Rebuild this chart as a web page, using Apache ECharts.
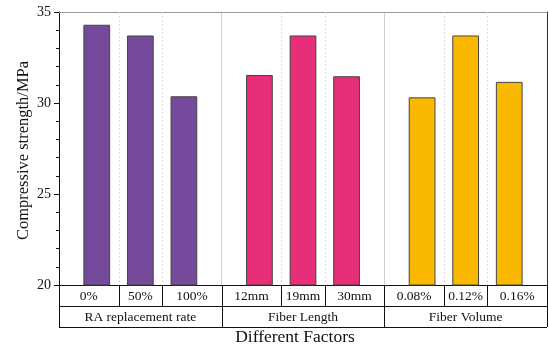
<!DOCTYPE html>
<html>
<head>
<meta charset="utf-8">
<script src="https://cdn.jsdelivr.net/npm/echarts@6/dist/echarts.min.js"></script>
<style>html,body{margin:0;padding:0;background:#fff}#c{width:549px;height:347px}</style>
</head>
<body>
<div id="c"></div>
<script>
const groups = ['RA replacement rate', 'Fiber Length', 'Fiber Volume'];
const levels = [['0%', '50%', '100%'], ['12mm', '19mm', '30mm'], ['0.08%', '0.12%', '0.16%']];
const raValues = [34.30, 33.71, 30.37];
const lengthValues = [31.54, 33.71, 31.47];
const volumeValues = [30.31, 33.71, 31.16];
const groupValues = [raValues, lengthValues, volumeValues];
const groupColors = ['#764A9B', '#E62E79', '#FBB800'];
const yTicks = { min: 20, max: 35, interval: 5 };
const yTitle = 'Compressive strength/MPa';
const xTitle = 'Different Factors';

const FONT = 'Liberation Serif';
const barGapPct = 63, catGapPct = 30;

const chart = echarts.init(document.getElementById('c'), null, { renderer: 'canvas' });

const series = [0, 1, 2].map(i => ({
  type: 'bar',
  xAxisIndex: 0,
  yAxisIndex: 0,
  barGap: barGapPct + '%',
  barCategoryGap: catGapPct + '%',
  itemStyle: { borderColor: '#444', borderWidth: 1 },
  data: groups.map((g, gi) => ({ value: groupValues[gi][i], itemStyle: { color: groupColors[gi] } }))
}));

chart.setOption({
  animation: false,
  grid: { left: 59, right: 2, top: 12, bottom: 62, containLabel: false },
  xAxis: [
    {
      type: 'category', data: groups, position: 'bottom',
      axisLine: { show: true, lineStyle: { color: '#111', width: 1 } },
      axisTick: { show: false }, axisLabel: { show: false },
      splitLine: { show: true, lineStyle: { color: '#cfcfcf', width: 1 } }
    },
    {
      type: 'value', min: 0, max: 3, position: 'top',
      axisLine: { show: true, onZero: false, lineStyle: { color: '#999', width: 1 } },
      axisTick: { show: false }, axisLabel: { show: false }, splitLine: { show: false }
    }
  ],
  yAxis: [
    {
      type: 'value', min: yTicks.min, max: yTicks.max, interval: yTicks.interval,
      axisLine: { show: true, lineStyle: { color: '#111', width: 1 } },
      axisTick: { show: true, inside: false, length: 5, lineStyle: { color: '#111' } },
      minorTick: { show: true, splitNumber: 5, length: 3, lineStyle: { color: '#111' } },
      axisLabel: { fontFamily: FONT, fontSize: 14, color: '#111', margin: 8 },
      splitLine: { show: false }
    },
    {
      type: 'value', min: yTicks.min, max: yTicks.max, position: 'right',
      axisLine: { show: true, lineStyle: { color: '#333', width: 1 } },
      axisTick: { show: false }, axisLabel: { show: false }, splitLine: { show: false }
    }
  ],
  series: series
});

// Build divider positions (in group units) from bar geometry
const catGap = catGapPct / 100;
const w = (1 - catGap) / (3 + 2 * barGapPct / 100);
const gap = w * barGapPct / 100;
const c0 = catGap / 2 + w / 2;
const d1 = c0 + (w + gap) / 2;
const d2 = d1 + (w + gap);

const px = v => chart.convertToPixel({ xAxisIndex: 1 }, v);
const py = v => chart.convertToPixel({ yAxisIndex: 0 }, v);
const yTop = py(yTicks.max), yBot = py(yTicks.min);
const row1 = 21, row2 = 21;
const lineC = '#111';
const els = [];
const ln = (x1, y1, x2, y2, style) => els.push({ type: 'line', silent: true, z: 50, shape: { x1, y1, x2, y2 }, style: Object.assign({ stroke: lineC, lineWidth: 1 }, style || {}) });
const tx = (text, x, y, size, rot) => els.push({ type: 'text', silent: true, z: 51, x, y, rotation: rot || 0, style: { text, fontFamily: FONT, fontSize: size, fill: '#111', align: 'center', verticalAlign: 'middle' } });

groups.forEach((g, gi) => {
  const bounds = [gi, gi + d1, gi + d2, gi + 1].map(px);
  [bounds[1], bounds[2]].forEach(x => ln(Math.round(x) + 0.5, yTop, Math.round(x) + 0.5, yBot, { stroke: '#dcdcdc', lineDash: [2, 2] }));
  bounds.forEach(x => ln(Math.round(x) + 0.5, yBot, Math.round(x) + 0.5, yBot + row1));
  levels[gi].forEach((lab, li) => tx(lab, (bounds[li] + bounds[li + 1]) / 2, yBot + row1 / 2 + 0.5, 13.5));
  [bounds[0], bounds[3]].forEach(x => ln(Math.round(x) + 0.5, yBot + row1, Math.round(x) + 0.5, yBot + row1 + row2));
  tx(g, (bounds[0] + bounds[3]) / 2, yBot + row1 + row2 / 2 + 0.5, 13.5);
});
const xl = px(0), xr = px(3);
ln(xl, Math.round(yBot + row1) + 0.5, xr, Math.round(yBot + row1) + 0.5);
ln(xl, Math.round(yBot + row1 + row2) + 0.5, xr, Math.round(yBot + row1 + row2) + 0.5);
tx(xTitle, (xl + xr) / 2 - 8, yBot + row1 + row2 + 10, 17.5);
tx(yTitle, 24, (yTop + yBot) / 2 + 2, 16.5, Math.PI / 2);

chart.setOption({ graphic: els });
</script>
</body>
</html>
